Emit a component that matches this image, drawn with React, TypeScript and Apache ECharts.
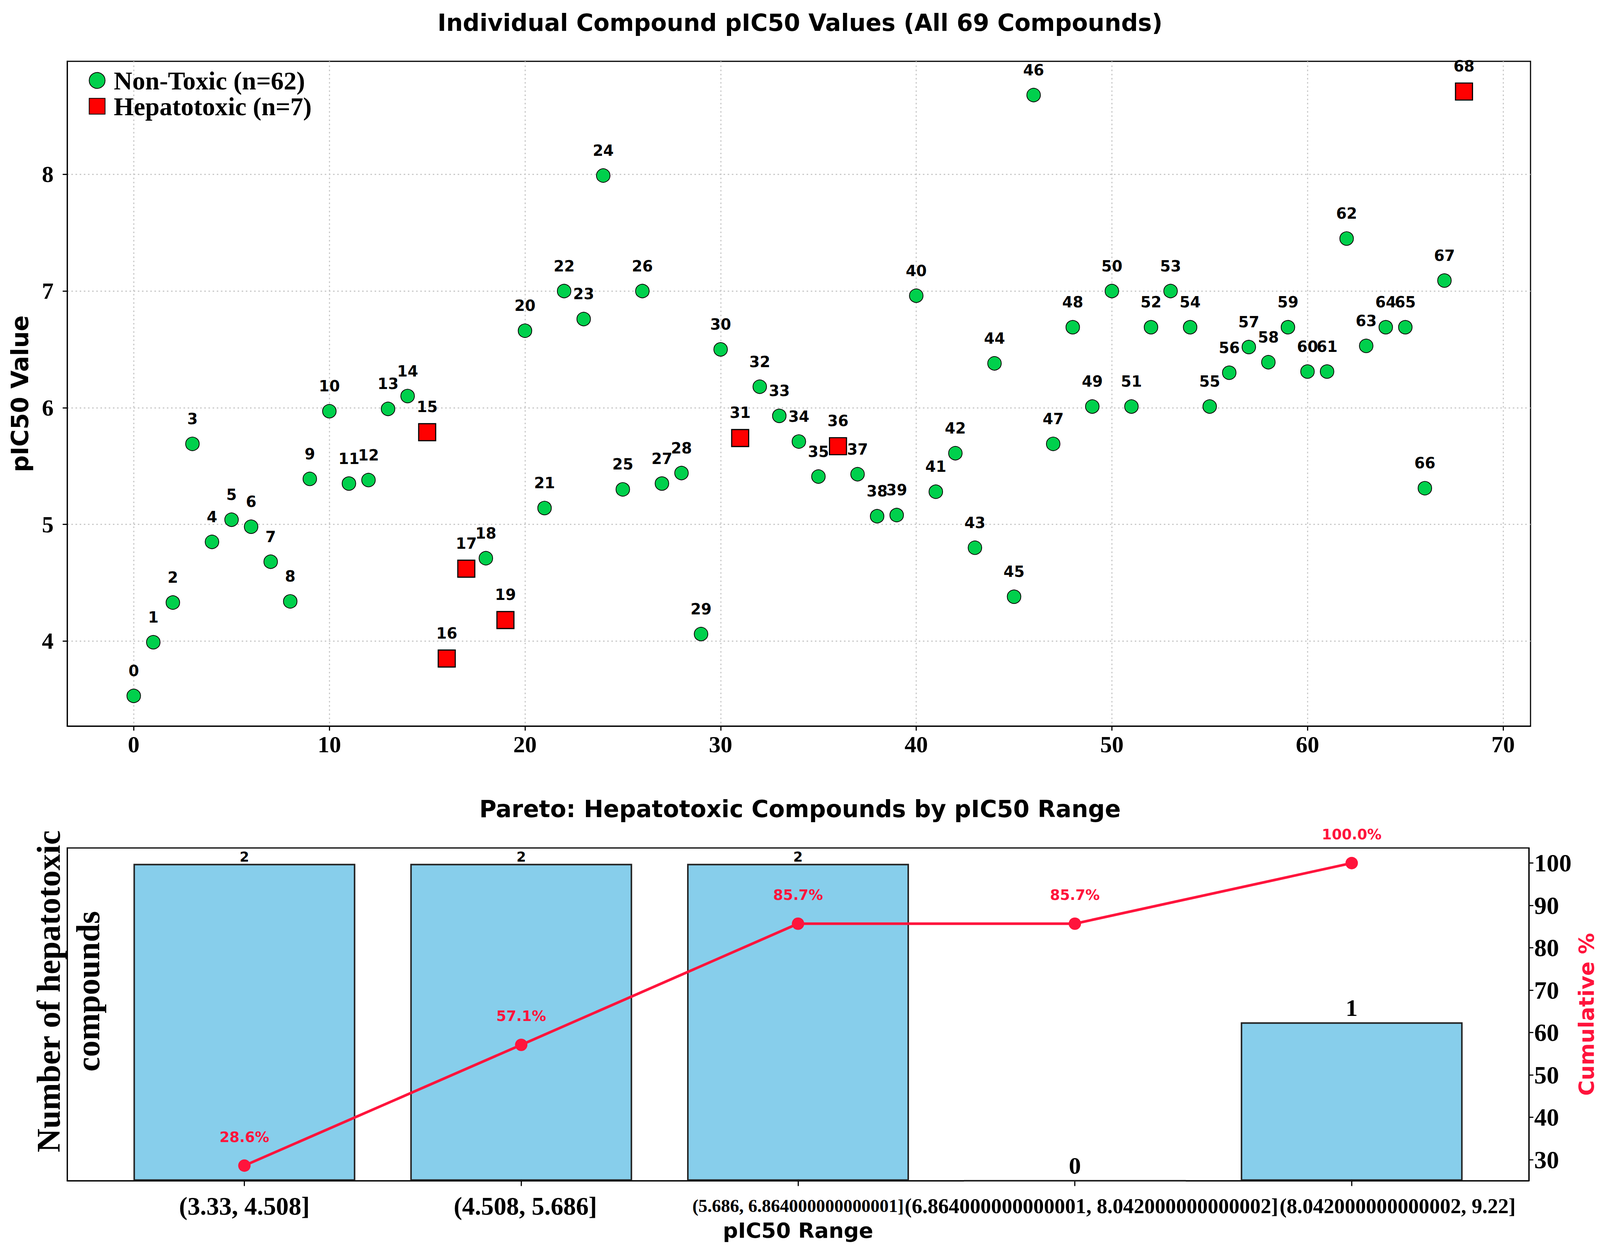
import React, { useEffect, useRef } from 'react';
import * as echarts from 'echarts';

// pIC50 per compound, index = compound id
const pic50Values = [
  3.53, 3.99, 4.33, 5.69, 4.85, 5.04, 4.98, 4.68, 4.34, 5.39,
  5.97, 5.35, 5.38, 5.99, 6.1, 5.79, 3.85, 4.62, 4.71, 4.18,
  6.66, 5.14, 7.0, 6.76, 7.99, 5.3, 7.0, 5.35, 5.44, 4.06,
  6.5, 5.74, 6.18, 5.93, 5.71, 5.41, 5.67, 5.43, 5.07, 5.08,
  6.96, 5.28, 5.61, 4.8, 6.38, 4.38, 8.68, 5.69, 6.69, 6.01,
  7.0, 6.01, 6.69, 7.0, 6.69, 6.01, 6.3, 6.52, 6.39, 6.69,
  6.31, 6.31, 7.45, 6.53, 6.69, 6.69, 5.31, 7.09, 8.71,
];
const hepatotoxicIds = [15, 16, 17, 19, 31, 36, 68];

const scatterXTicks = [0, 10, 20, 30, 40, 50, 60, 70];
const scatterYTicks = [4, 5, 6, 7, 8];

const rangeLabels = [
  '(3.33, 4.508]',
  '(4.508, 5.686]',
  '(5.686, 6.864000000000001]',
  '(6.864000000000001, 8.042000000000002]',
  '(8.042000000000002, 9.22]',
];
const toxicCounts = [2, 2, 2, 0, 1];
const cumulativePct = [28.6, 57.1, 85.7, 85.7, 100.0];
const pctTicks = [30, 40, 50, 60, 70, 80, 90, 100];

const SERIF = 'Liberation Serif';
const SANS = 'DejaVu Sans';
const LINE_RED = '#ff143c';

// layout is measured on a 4237 x 3208 canvas and scaled to the real box
const REF_W = 4237;
const REF_H = 3208;

const App: React.FC = () => {
  const chartref = useRef<HTMLDivElement>(null);

  useEffect(() => {
    document.body.style.margin = '0';
    const el = chartref.current as HTMLDivElement;
    const sx = el.clientWidth / REF_W;
    const sy = el.clientHeight / REF_H;
    const s = Math.min(sx, sy);
    const X = (v: number) => v * sx;
    const Y = (v: number) => v * sy;
    const F = (v: number) => v * s;

    const myChart = echarts.init(el, null, { renderer: 'svg' });

    const nonToxic: number[][] = [];
    const toxic: number[][] = [];
    pic50Values.forEach((v, i) => {
      (hepatotoxicIds.includes(i) ? toxic : nonToxic).push([i, v]);
    });

    const yLo = Math.min(...pic50Values);
    const yHi = Math.max(...pic50Values);
    const yPad = (yHi - yLo) * 0.05;
    const xPad = (pic50Values.length - 1) * 0.05;

    const pxMin = -0.4 - 0.24;
    const pxMax = toxicCounts.length - 1 + 0.4 + 0.24;
    const paretoW = X(3878);
    const barWidth = (0.8 * paretoW) / (pxMax - pxMin);
    const countMax = Math.max(...toxicCounts) * 1.05;
    const pctPad = (Math.max(...cumulativePct) - Math.min(...cumulativePct)) * 0.05;

    // the long range labels sit a little right of their ticks in the original
    const labelShift = [0, 0.015, 0, 0.06, 0.166];
    const rangeTicks = rangeLabels.map((_, i) => i);
    const rangeLabelPos = rangeTicks.map((i) => i + labelShift[i]);

    const pointLabel = (dist: number) =>
      ({
        show: true,
        position: 'top',
        distance: F(dist),
        formatter: (p: any) => String(p.value[0]),
        fontFamily: SANS,
        fontWeight: 'bold',
        fontSize: F(40),
        color: '#000',
      }) as const;

    const serifTick = {
      fontFamily: SERIF,
      fontWeight: 'bold',
      color: '#000',
    } as const;

    const axisLine = { show: true, onZero: false, lineStyle: { color: '#000', width: F(3) } };
    const gridLine = {
      show: true,
      lineStyle: { color: '#c8c8c8', width: F(3), type: [F(4), F(7)] },
    };

    const option: echarts.EChartsOption = {
      animation: false,
      backgroundColor: '#fff',
      title: [
        {
          text: 'Individual Compound pIC50 Values (All 69 Compounds)',
          left: 'center',
          top: Y(59) - F(32),
          padding: 0,
          textStyle: { fontFamily: SANS, fontWeight: 'bold', fontSize: F(62), color: '#000' },
        },
        {
          text: 'Pareto: Hepatotoxic Compounds by pIC50 Range',
          left: 'center',
          top: Y(2072) - F(32),
          padding: 0,
          textStyle: { fontFamily: SANS, fontWeight: 'bold', fontSize: F(62), color: '#000' },
        },
      ],
      legend: {
        left: X(230),
        top: Y(168),
        orient: 'vertical',
        itemWidth: F(42),
        itemHeight: F(42),
        itemGap: 0,
        textStyle: {
          fontFamily: SERIF,
          fontWeight: 'bold',
          fontSize: F(68),
          lineHeight: Y(58),
          padding: [0, 0, 0, F(18)],
          color: '#000',
        },
        data: ['Non-Toxic (n=62)', 'Hepatotoxic (n=7)'],
      },
      grid: [
        {
          left: X(178),
          top: Y(157),
          width: X(3875),
          height: Y(1702),
          show: true,
          borderColor: '#000',
          borderWidth: F(3),
        },
        {
          left: X(178),
          top: Y(2171),
          width: paretoW,
          height: Y(852),
          show: true,
          borderColor: '#000',
          borderWidth: F(3),
        },
      ],
      xAxis: [
        {
          type: 'value',
          gridIndex: 0,
          min: -xPad,
          max: pic50Values.length - 1 + xPad,
          axisLine,
          axisTick: { show: true, length: F(12), lineStyle: { width: F(3) }, customValues: scatterXTicks },
          axisLabel: { ...serifTick, fontSize: F(62), margin: F(18), customValues: scatterXTicks },
          splitLine: gridLine,
        },
        {
          type: 'value',
          gridIndex: 1,
          min: pxMin,
          max: pxMax,
          name: 'pIC50 Range',
          nameLocation: 'middle',
          nameGap: Y(100),
          nameTextStyle: { fontFamily: SANS, fontWeight: 'bold', fontSize: F(56), color: '#000' },
          axisLine,
          axisTick: {
            show: true,
            length: F(14),
            lineStyle: { width: F(3) },
            customValues: rangeTicks,
          },
          axisLabel: {
            margin: Y(30),
            hideOverlap: false,
            showMinLabel: true,
            showMaxLabel: true,
            customValues: rangeLabelPos,
            formatter: (v: number) => {
              const i = Math.round(v);
              const key = i < 2 ? 'big' : i === 2 ? 'mid' : 'wide';
              return `{${key}|${rangeLabels[i]}}`;
            },
            rich: {
              big: { ...serifTick, fontSize: F(67), lineHeight: F(72) },
              mid: { ...serifTick, fontSize: F(48), lineHeight: F(72) },
              wide: { ...serifTick, fontSize: F(56), lineHeight: F(72) },
            },
          },
          splitLine: { show: false },
        },
      ],
      yAxis: [
        {
          type: 'value',
          gridIndex: 0,
          min: yLo - yPad,
          max: yHi + yPad,
          name: 'pIC50 Value',
          nameLocation: 'middle',
          nameGap: X(94),
          nameTextStyle: { fontFamily: SANS, fontWeight: 'bold', fontSize: Y(60), color: '#000' },
          axisLine,
          axisTick: { show: true, length: F(12), lineStyle: { width: F(3) }, customValues: scatterYTicks },
          axisLabel: { ...serifTick, fontSize: F(62), margin: X(36), customValues: scatterYTicks },
          splitLine: gridLine,
        },
        {
          type: 'value',
          gridIndex: 1,
          min: 0,
          max: countMax,
          axisLine,
          axisTick: { show: false },
          axisLabel: { show: false },
          splitLine: { show: false },
        },
        {
          type: 'value',
          gridIndex: 1,
          position: 'right',
          min: Math.min(...cumulativePct) - pctPad,
          max: Math.max(...cumulativePct) + pctPad,
          name: 'Cumulative %',
          nameLocation: 'middle',
          nameRotate: 90,
          nameGap: X(106),
          nameTextStyle: { fontFamily: SANS, fontWeight: 'bold', fontSize: Y(54), color: LINE_RED },
          axisLine,
          axisTick: { show: true, length: F(12), lineStyle: { width: F(3) }, customValues: pctTicks },
          axisLabel: { ...serifTick, fontSize: F(66), margin: X(14), customValues: pctTicks },
          splitLine: { show: false },
        },
      ],
      graphic: [
        {
          type: 'text',
          x: X(181),
          y: Y(2538),
          rotation: Math.PI / 2,
          style: {
            text: 'Number of hepatotoxic\ncompounds',
            fontFamily: SERIF,
            fontWeight: 'bold',
            fontSize: Y(84),
            lineHeight: X(105),
            fill: '#000',
            align: 'center',
            verticalAlign: 'middle',
          },
        },
      ],
      series: [
        {
          name: 'Non-Toxic (n=62)',
          type: 'scatter',
          xAxisIndex: 0,
          yAxisIndex: 0,
          symbol: 'circle',
          symbolSize: F(36),
          itemStyle: { color: '#00d04c', borderColor: '#000', borderWidth: F(2), opacity: 1 },
          label: pointLabel(27),
          data: nonToxic,
        },
        {
          name: 'Hepatotoxic (n=7)',
          type: 'scatter',
          xAxisIndex: 0,
          yAxisIndex: 0,
          symbol: 'rect',
          symbolSize: F(45),
          itemStyle: { color: '#ff0000', borderColor: '#000', borderWidth: F(3), opacity: 1 },
          label: pointLabel(23),
          data: toxic,
        },
        {
          type: 'bar',
          xAxisIndex: 1,
          yAxisIndex: 1,
          barWidth,
          itemStyle: { color: '#87CEEB', borderColor: '#222', borderWidth: F(4) },
          data: toxicCounts.map((c, i) => ({
            value: [i, c],
            label:
              i < 3
                ? {
                    show: true,
                    position: 'top',
                    distance: 0,
                    fontFamily: SANS,
                    fontWeight: 'bold',
                    fontSize: F(36),
                    color: '#000',
                  }
                : {
                    show: true,
                    position: 'top',
                    distance: F(6),
                    fontFamily: SERIF,
                    fontWeight: 'bold',
                    fontSize: F(64),
                    color: '#000',
                  },
          })),
          label: { formatter: (p: any) => String(p.value[1]) },
        },
        {
          type: 'line',
          xAxisIndex: 1,
          yAxisIndex: 2,
          symbol: 'circle',
          symbolSize: F(33),
          itemStyle: { color: LINE_RED },
          lineStyle: { color: LINE_RED, width: F(7) },
          label: {
            show: true,
            position: 'top',
            distance: F(40),
            formatter: (p: any) => `${p.value[1].toFixed(1)}%`,
            fontFamily: SANS,
            fontWeight: 'bold',
            fontSize: F(38),
            color: LINE_RED,
          },
          data: cumulativePct.map((v, i) => [i, v]),
          z: 5,
        },
      ],
    };
    myChart.setOption(option);

    return () => {
      myChart.dispose();
    };
  }, []);

  return <div ref={chartref} style={{ position: 'fixed', inset: 0 }} />;
};

export default App;
